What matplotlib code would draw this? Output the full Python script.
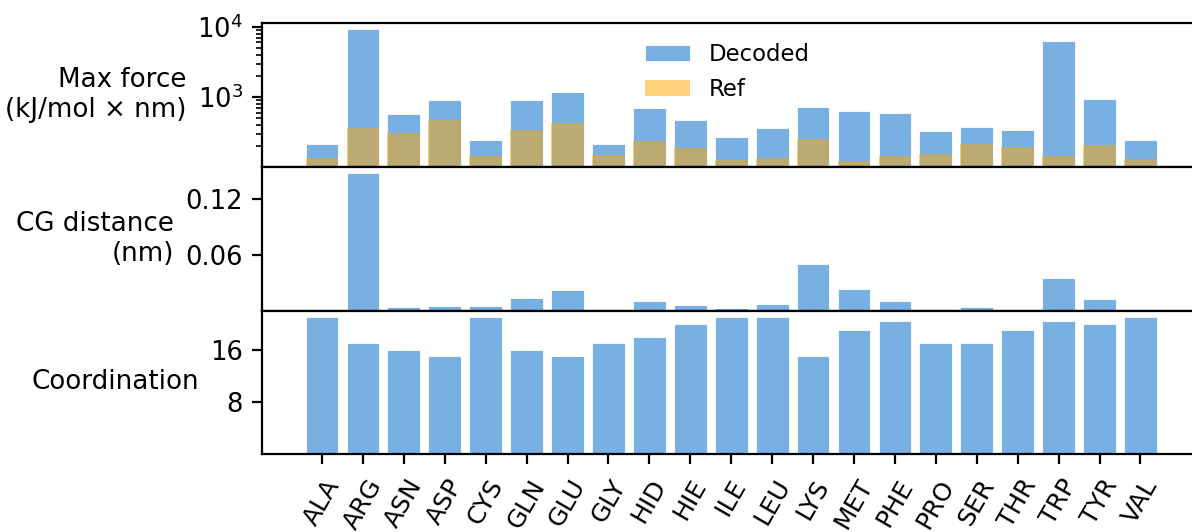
import numpy as np
import matplotlib.pyplot as plt

plt.rcParams['font.size'] = 9.3

residues = ['ALA', 'ARG', 'ASN', 'ASP', 'CYS', 'GLN', 'GLU', 'GLY', 'HID', 'HIE', 'ILE',
            'LEU', 'LYS', 'MET', 'PHE', 'PRO', 'SER', 'THR', 'TRP', 'TYR', 'VAL']

force_decoded = [216, 9180, 585, 927, 246, 917, 1206, 213, 697, 474, 272,
                 366, 720, 646, 591, 327, 381, 342, 6250, 936, 246]
force_ref = [138, 366, 313, 469, 144, 338, 435, 153, 238, 187, 128,
             138, 259, 125, 148, 155, 218, 198, 144, 211, 134]
cg_dist = [0.0, 0.148, 0.004, 0.005, 0.0047, 0.0134, 0.0223, 0.002, 0.0105, 0.0058, 0.0032,
           0.0072, 0.0506, 0.023, 0.0105, 0.002, 0.004, 0.0, 0.035, 0.012, 0.0]
coordination = [21, 17, 16, 15, 21, 16, 15, 17, 18, 20, 21,
                21, 15, 19, 20.5, 17, 17, 19, 20.5, 20, 21]

blue = '#78b0e4'
x = np.arange(len(residues))
lab = dict(rotation=0, ha='right', va='center', multialignment='right', fontsize=9.4)

fig, ax = plt.subplots(3, 1, figsize=(5.96, 2.66), dpi=200, sharex=True)
fig.subplots_adjust(left=0.22, right=1.0, top=0.957, bottom=0.146, hspace=0)

ax[0].bar(x, force_decoded, color=blue, edgecolor='white', lw=0.3, label='Decoded')
ax[0].bar(x, force_ref, color='orange', alpha=0.5, lw=0, label='Ref')
ax[0].set_yscale('log')
ax[0].set_ylim(103, 11400)
ax[0].legend(loc='upper center', frameon=False, fontsize=8.2)
ax[0].set_ylabel('Max force\n(kJ/mol × nm)', **lab)

ax[1].bar(x, cg_dist, color=blue, edgecolor='white', lw=0.3)
ax[1].set_ylim(0, 0.155)
ax[1].set_yticks([0.06, 0.12])
ax[1].set_ylabel('CG distance\n(nm)', **lab)

ax[2].bar(x, coordination, color=blue, edgecolor='white', lw=0.3)
ax[2].set_ylim(0, 22.05)
ax[2].set_yticks([8, 16])
ax[2].set_ylabel('Coordination', **lab)

for a in ax:
    a.spines['right'].set_visible(False)
    a.set_xlim(-1.46, 21.26)
for a in ax[:2]:
    a.tick_params(axis='x', bottom=False)

ax[2].set_xticks(x)
ax[2].set_xticklabels(residues, rotation=60, fontsize=9)
ax[2].tick_params(axis='x', pad=4)

fig.savefig('out.png', dpi=200)
plt.close()
